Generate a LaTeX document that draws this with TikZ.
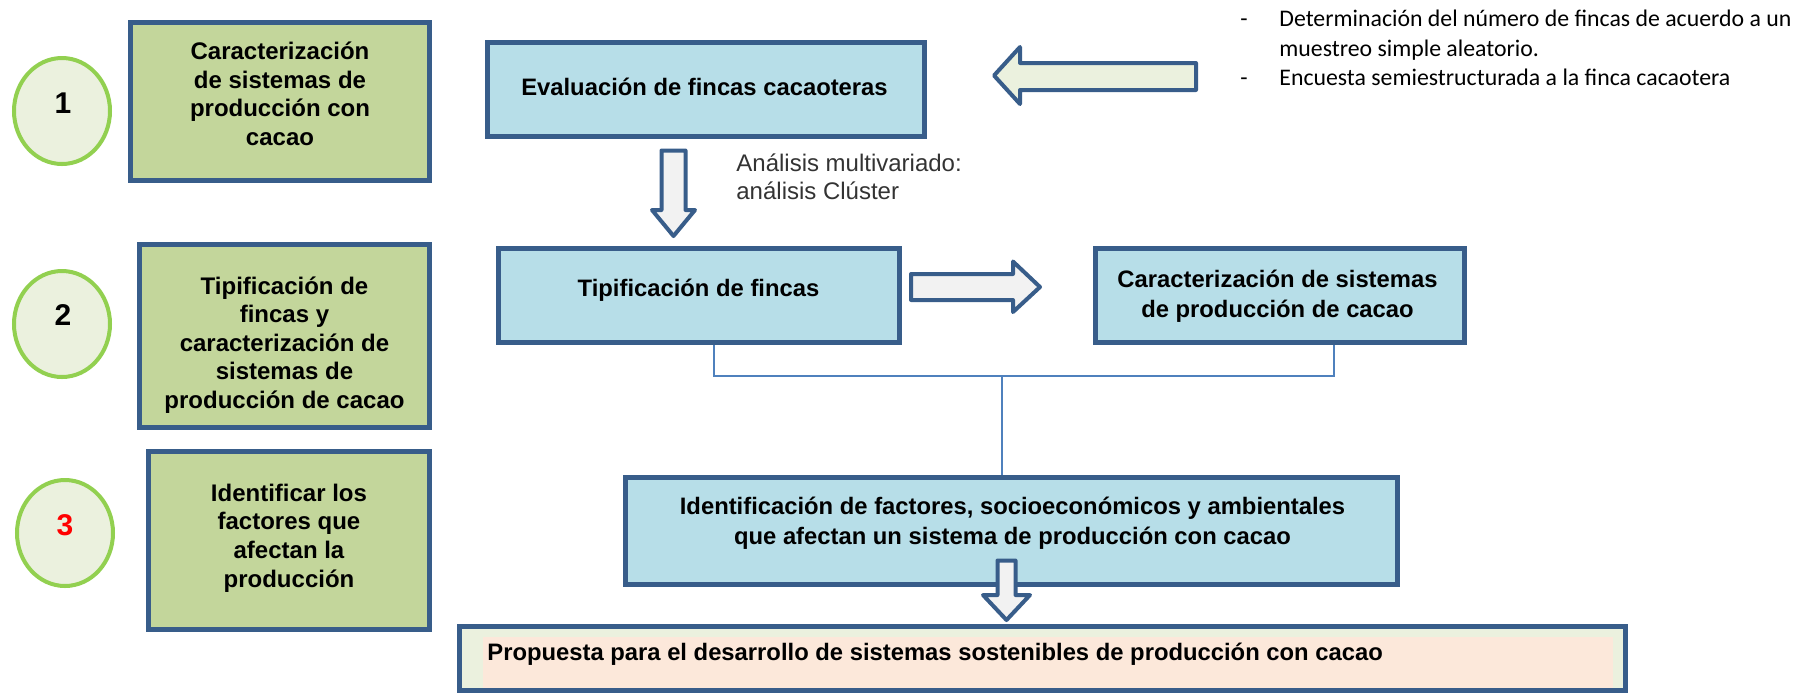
\documentclass[tikz,border=0pt]{standalone}
\usepackage{fontspec}
\setmainfont{Liberation Sans}
\newfontfamily\calibrifont{Carlito}
\usetikzlibrary{shapes.geometric}
\definecolor{bordc}{HTML}{385D8A}
\definecolor{gfill}{HTML}{C3D69B}
\definecolor{bfill}{HTML}{B7DEE8}
\definecolor{cfill}{HTML}{EBF1DE}
\definecolor{cline}{HTML}{92D050}
\definecolor{agrey}{HTML}{F2F2F2}
\definecolor{peach}{HTML}{FCE8DA}
\definecolor{conc}{HTML}{4F81BD}
\begin{document}
\begin{tikzpicture}[x=0.5pt,y=-0.5pt,
  boxbase/.style={draw=bordc,line width=2.5pt,inner sep=0pt},
  gbox/.style={boxbase,fill=gfill},
  bbox/.style={boxbase,fill=bfill},
  btext/.style={inner sep=0pt,align=center,font=\bfseries\fontsize{11.9}{14.8}\selectfont},
  gtext/.style={inner sep=0pt,align=center,font=\bfseries\fontsize{12}{14.3}\selectfont},
  numc/.style={ellipse,draw=cline,line width=2pt,fill=cfill,inner sep=0pt,minimum width=48pt,minimum height=53pt},
  numt/.style={inner sep=0pt,font=\bfseries\fontsize{15}{18}\selectfont},
  barrow/.style={draw=bordc,line width=2pt,fill=agrey,line join=round},
  conn/.style={draw=conc,line width=0.75pt}]
\useasboundingbox (0,0) rectangle (1817,693);

% step circles
\node[numc] (c1) at (62,111) {};
\node[numc] (c2) at (62,324) {};
\node[numc] (c3) at (65,533) {};
\node[numt] (n1) at (63,103) {1};
\node[numt] (n2) at (63,315) {2};
\node[numt,text=red] (n3) at (65,525) {3};

% green boxes
\node[gbox,minimum width=149.5pt,minimum height=79pt] (g1) at (280,101.5) {};
\node[gtext] (g1t) at (280,94) {Caracterización\\de sistemas de\\producción con\\cacao};
\node[gbox,minimum width=145pt,minimum height=91.5pt] (g2) at (284.5,336) {};
\node[gtext] (g2t) at (284.5,345) {Tipificación de\\fincas y\\caracterización de\\sistemas de\\producción de cacao};
\node[gbox,minimum width=140.5pt,minimum height=89pt] (g3) at (289,540.5) {};
\node[gtext] (g3t) at (289,538) {Identificar los\\factores que\\afectan la\\producción};

% blue boxes
\node[bbox,minimum width=218.5pt,minimum height=47pt] (eva) at (706,89.5) {};
\node[btext] (evat) at (704.5,87) {Evaluación de fincas cacaoteras};
\node[bbox,minimum width=200.5pt,minimum height=47pt] (tip) at (699,295.5) {};
\node[btext] (tipt) at (698.5,290) {Tipificación de fincas};
\node[bbox,minimum width=184.5pt,minimum height=47pt] (car) at (1280,295.5) {};
\node[btext] (cart) at (1277.5,296) {Caracterización de sistemas\\de producción de cacao};
\node[bbox,minimum width=386pt,minimum height=53.5pt] (ide) at (1011.5,531) {};
\node[btext] (idet) at (1012.5,523) {Identificación de factores, socioeconómicos y ambientales\\que afectan un sistema de producción con cacao};

% bottom box
\node[boxbase,fill=cfill,minimum width=583pt,minimum height=31.75pt] (prop) at (1042.5,658.25) {};
\fill[peach] (483,637) rectangle (1613,688);
\node[btext,anchor=west] (propt) at (487,654) {Propuesta para el desarrollo de sistemas sostenibles de producción con cacao};

% connectors
\coordinate (jl) at (714,376);
\coordinate (jr) at (1334,376);
\coordinate (jm) at (1002,376);
\draw[conn] (tip.south -| jl) -- (jl) -- (jr) -- (car.south -| jr);
\draw[conn] (jm) -- (ide.north -| jm);

% block arrows
\draw[barrow,fill=cfill] (1196,63) -- (1020,63) -- (1020,47) -- (994,75.5) -- (1020,104) -- (1020,90) -- (1196,90) -- cycle;
\draw[barrow] (661.5,150.5) -- (685.5,150.5) -- (685.5,210) -- (695,210) -- (673.5,236) -- (652,210) -- (661.5,210) -- cycle;
\draw[barrow] (911,274) -- (1013,274) -- (1013,261.5) -- (1040,287) -- (1013,312) -- (1013,300) -- (911,300) -- cycle;
\draw[barrow] (997.5,560.5) -- (1015.5,560.5) -- (1015.5,595) -- (1030,595) -- (1006.5,620) -- (983,595) -- (997.5,595) -- cycle;

% free texts
\node[inner sep=0pt,anchor=west,align=left,font=\fontsize{12}{14}\selectfont,text=black!80] (ana) at (736,177) {Análisis multivariado:\\análisis Clúster};
\node[inner sep=0pt,anchor=west,align=left,font=\calibrifont\fontsize{11.9}{14.75}\selectfont] (notes) at (1240,48) {\makebox[19.5pt][l]{-}Determinación del número de fincas de acuerdo a un\\\hspace*{19.5pt}muestreo simple aleatorio.\\\makebox[19.5pt][l]{-}Encuesta semiestructurada a la finca cacaotera};
\end{tikzpicture}
\end{document}
